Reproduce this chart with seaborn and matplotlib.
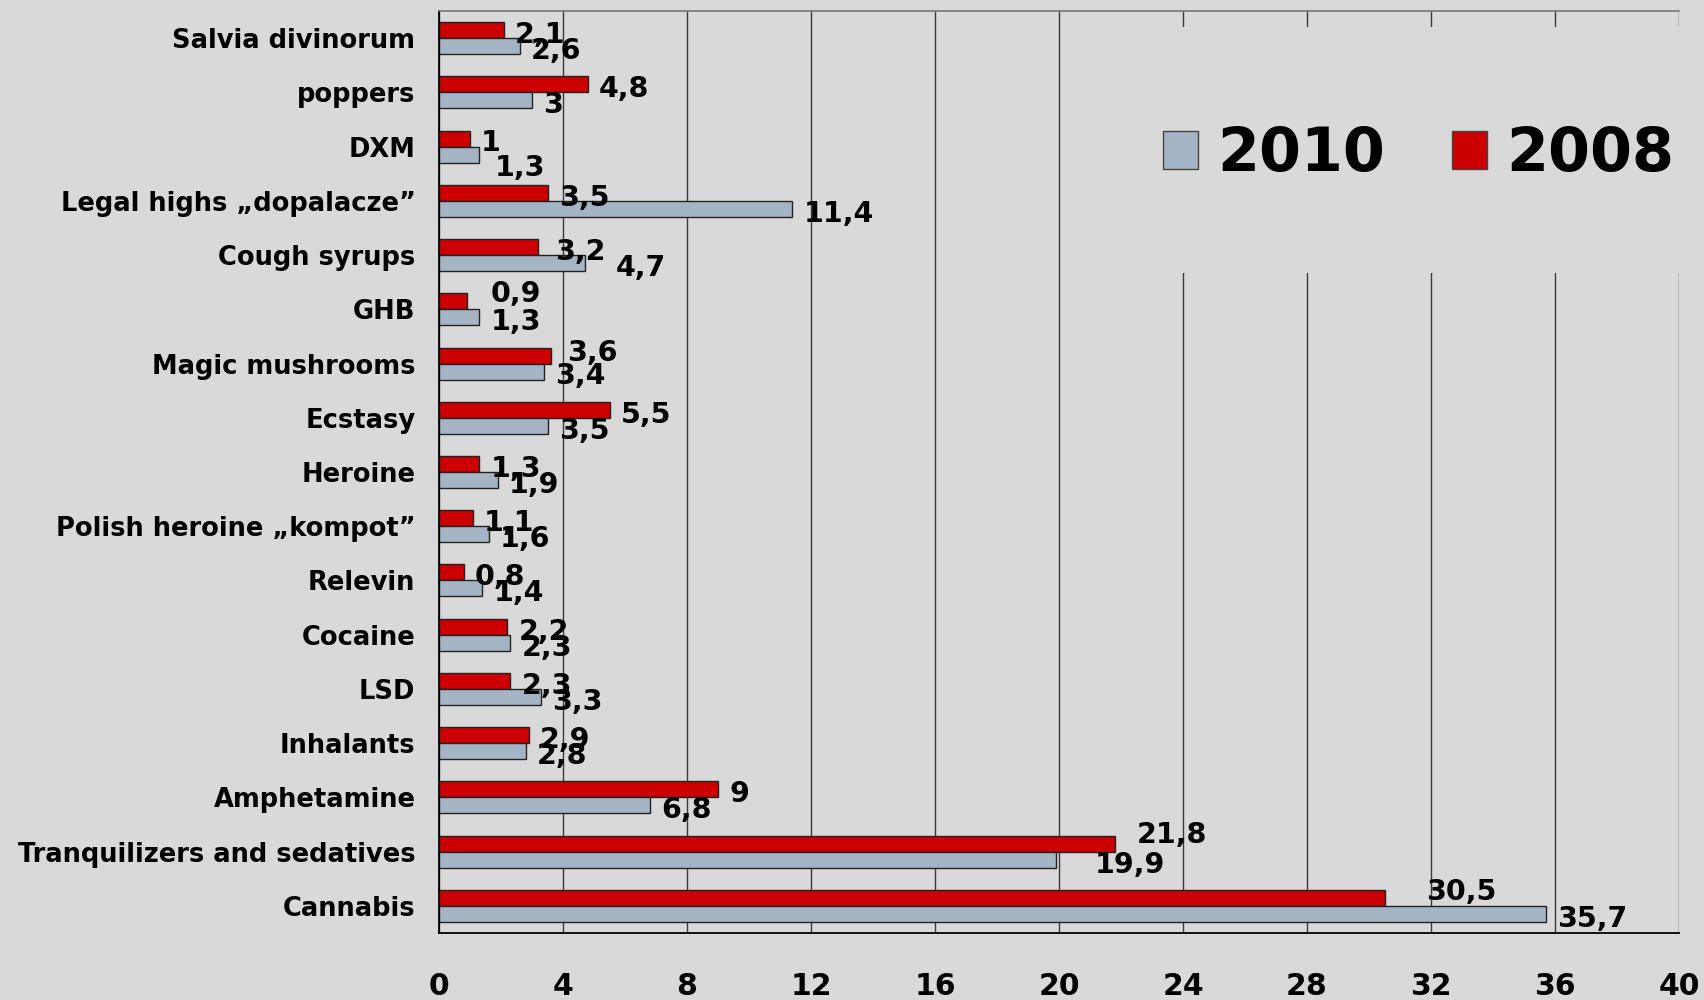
import numpy as np
import pandas as pd
import matplotlib
matplotlib.use('Agg')
import matplotlib.pyplot as plt
from matplotlib.patches import Patch, Rectangle
from matplotlib.ticker import FixedLocator
import seaborn as sns

# --- data ---
categories = ['Salvia divinorum', 'poppers', 'DXM', 'Legal highs „dopalacze”',
              'Cough syrups', 'GHB', 'Magic mushrooms', 'Ecstasy', 'Heroine',
              'Polish heroine „kompot”', 'Relevin', 'Cocaine', 'LSD', 'Inhalants',
              'Amphetamine', 'Tranquilizers and sedatives', 'Cannabis']
v2008 = [2.1, 4.8, 1, 3.5, 3.2, 0.9, 3.6, 5.5, 1.3, 1.1, 0.8, 2.2, 2.3, 2.9, 9, 21.8, 30.5]
v2010 = [2.6, 3, 1.3, 11.4, 4.7, 1.3, 3.4, 3.5, 1.9, 1.6, 1.4, 2.3, 3.3, 2.8, 6.8, 19.9, 35.7]
years = ['2008', '2010']
colors = {'2008': '#CC0000', '2010': '#A4B4C4'}

# label nudges (points) where the original labels sit off the usual spot
dx_2008 = {'Cough syrups': 4, 'GHB': 9, 'Magic mushrooms': 4,
           'Tranquilizers and sedatives': 8, 'Cannabis': 22}
dy_2008 = {'GHB': 9, 'Magic mushrooms': 5, 'Tranquilizers and sedatives': 10,
           'Cannabis': 8}
dx_2010 = {'DXM': 3, 'Cough syrups': 14, 'Tranquilizers and sedatives': 20}
dy_2010 = {'DXM': -6}

df = pd.DataFrame({'category': categories * 2,
                   'value': v2008 + v2010,
                   'year': ['2008'] * len(categories) + ['2010'] * len(categories)})

bg = '#D9D9D9'
sns.set_style('white', rc={'axes.facecolor': bg, 'figure.facecolor': bg})
plt.rcParams['font.family'] = ['DejaVu Sans']
plt.rcParams['text.color'] = 'black'
plt.rcParams['xtick.labelcolor'] = 'black'
plt.rcParams['ytick.labelcolor'] = 'black'

fig = plt.figure(figsize=(17.04, 10), dpi=100)
ax = fig.add_axes([439 / 1704, 67 / 1000, 1240 / 1704, 922 / 1000])

sns.barplot(data=df, x='value', y='category', hue='year', hue_order=years,
            order=categories, palette=colors, orient='h', width=0.59,
            saturation=1, edgecolor='#222222', linewidth=1, legend=False, ax=ax)

ax.set_xlim(0, 40)
ax.set_ylim(len(categories) - 0.5, -0.5)
ax.set_xticks(np.arange(0, 41, 4))
ax.set_axisbelow(True)
ax.grid(axis='x', color='#3a3a3a', linewidth=1)
ax.grid(axis='y', visible=False)

for side in ['left', 'bottom']:
    ax.spines[side].set_color('black')
    ax.spines[side].set_linewidth(1.3)
ax.spines['top'].set_color('#777777')
ax.spines['top'].set_linewidth(1.2)
ax.spines['right'].set_visible(False)

ax.tick_params(axis='x', length=7, width=1, color='#333333', pad=21,
               labelsize=21.5)
ax.tick_params(axis='y', which='major', length=0, pad=17, labelsize=18.5)
ax.yaxis.set_minor_locator(FixedLocator(np.arange(-0.5, len(categories), 1)))
ax.tick_params(axis='y', which='minor', length=6, width=1, color='#333333')
for lab in ax.get_xticklabels() + ax.get_yticklabels():
    lab.set_fontweight('bold')
ax.set_xlabel('')
ax.set_ylabel('')

# value labels
for cont, year in zip(ax.containers, years):
    dxs = dx_2008 if year == '2008' else dx_2010
    dys = dy_2008 if year == '2008' else dy_2010
    for cat, bar in zip(categories, cont.patches):
        w = bar.get_width()
        yc = bar.get_y() + bar.get_height() / 2
        txt = f'{w:g}'.replace('.', ',')
        ax.annotate(txt, xy=(w, yc), xytext=(8 + dxs.get(cat, 0), -3.5 + dys.get(cat, 0)),
                    textcoords='offset points', ha='left', va='center',
                    fontsize=20.5, fontweight='bold', color='black',
                    annotation_clip=False, zorder=5)

# legend backdrop hides gridlines like the original
ax.add_patch(Rectangle((0.541, 0.716), 0.476, 0.267, transform=ax.transAxes,
                       facecolor=bg, edgecolor='none', zorder=0.9, clip_on=False))
handles = [Patch(facecolor=colors['2010'], edgecolor='#444444', label='2010'),
           Patch(facecolor=colors['2008'], edgecolor='#444444', label='2008')]
fig.legend(handles=handles, loc='center left', bbox_to_anchor=(1163 / 1704, 0.845),
           bbox_transform=fig.transFigure, ncol=2, frameon=False, borderpad=0,
           borderaxespad=0, handlelength=0.58, handleheight=0.58, handletextpad=0.32,
           columnspacing=1.1, prop={'size': 43.5, 'weight': 'bold'})

fig.savefig('out.png', dpi=100, facecolor=bg)
